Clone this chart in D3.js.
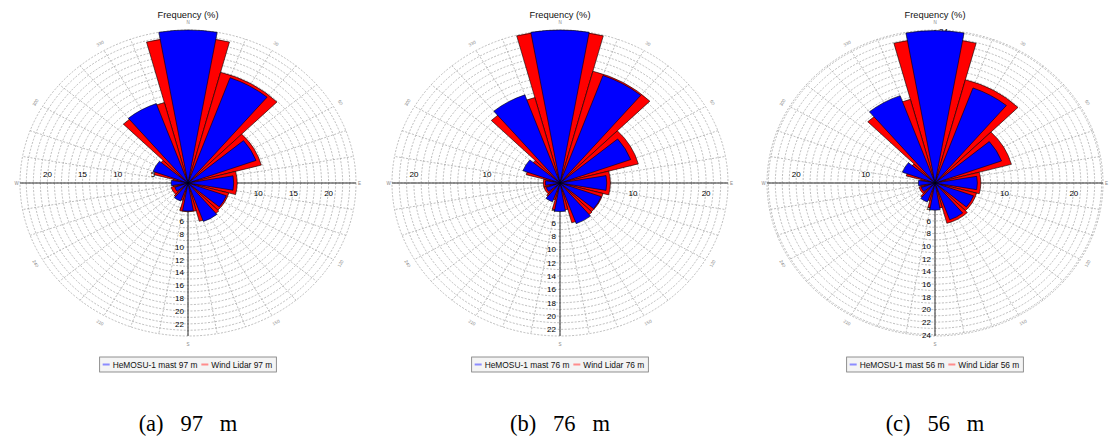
<!DOCTYPE html>
<html>
<head>
<meta charset="utf-8">
<script src="https://cdn.jsdelivr.net/npm/d3@7"></script>
<style>
  body { margin: 0; background: #fff; }
  svg { display: block; }
</style>
</head>
<body>
<svg id="chart" width="1109" height="440"></svg>
<script>
// Sector directions (degrees clockwise from north) and sector frequencies (%)
const directions = [0, 30, 60, 90, 120, 150, 180, 210, 240, 270, 300, 330];
const heights = ["97", "76", "56"];
const panelTags = ["(a)", "(b)", "(c)"];

const mast97  = [23.9, 17.5, 10.3, 6.5, 5.8, 6.4, 4.4, 3.0, 2.0, 2.4, 5.3, 13.2];
const lidar97 = [22.8, 17.9, 10.8, 7.0, 6.0, 6.2, 4.5, 2.8, 2.5, 2.2, 5.0, 13.0];
const mast76  = [23.0, 17.2, 10.3, 6.4, 6.0, 6.5, 4.3, 3.0, 2.0, 2.0, 5.4, 14.1];
const lidar76 = [22.9, 17.4, 11.1, 6.9, 6.1, 6.2, 4.1, 2.6, 2.3, 2.3, 4.8, 13.3];
const mast56  = [24.1, 16.0, 10.2, 6.1, 5.9, 6.2, 4.3, 3.2, 2.1, 2.4, 5.0, 14.7];
const lidar56 = [22.9, 16.9, 11.4, 6.6, 6.2, 6.6, 4.0, 2.9, 2.4, 2.1, 4.3, 13.7];

const radialMax = [23.9, 23.0, 24.2];   // outer ring of each rose (%)
const xTickStep = [5, 10, 10];          // E-W axis label step
const yTickStep = 2;                    // N-S axis label step
const dirLabels = ["N", "30", "60", "E", "120", "150", "S", "210", "240", "W", "300", "330"];

// ---- layout ----
const svg = d3.select("#chart");
const RX = 168, RY = 153;      // pixel half-axes of the outer ring (elliptic frame)
const CY = 183;
const centers = [188, 560, 935];
const LIDAR_W = 30, MAST_W = 20;   // angular width of the wedges (deg)

const panels = [
  { mast: mast97, lidar: lidar97 },
  { mast: mast76, lidar: lidar76 },
  { mast: mast56, lidar: lidar56 }
].map((p, i) => Object.assign(p, { h: heights[i], tag: panelTags[i], max: radialMax[i], xStep: xTickStep[i] }));

const rad = d => d * Math.PI / 180;

// elliptic wedge from the centre between angles a0..a1 with pixel radii rx, ry
function wedge(cx, cy, rx, ry, a0, a1) {
  const pt = a => [cx + rx * Math.sin(rad(a)), cy - ry * Math.cos(rad(a))];
  const [x0, y0] = pt(a0), [x1, y1] = pt(a1);
  return `M${cx},${cy}L${x0},${y0}A${rx},${ry} 0 0 1 ${x1},${y1}Z`;
}

panels.forEach((p, i) => drawRose(svg.append("g"), centers[i], p));

function drawRose(g, cx, p) {
  const sx = d3.scaleLinear().domain([0, p.max]).range([0, RX]);
  const sy = d3.scaleLinear().domain([0, p.max]).range([0, RY]);

  // dashed concentric rings, one per percent
  const rings = d3.range(1, p.max);
  rings.push(p.max);
  g.append("g").selectAll("ellipse").data(rings).join("ellipse")
    .attr("cx", cx).attr("cy", CY)
    .attr("rx", d => sx(d)).attr("ry", d => sy(d))
    .attr("fill", "none").attr("stroke", "#a0a0a0")
    .attr("stroke-width", 0.7).attr("stroke-dasharray", "2,1.5");

  // dashed spokes every 10 degrees
  g.append("g").selectAll("line").data(d3.range(0, 360, 10)).join("line")
    .attr("x1", cx).attr("y1", CY)
    .attr("x2", d => cx + RX * Math.sin(rad(d)))
    .attr("y2", d => CY - RY * Math.cos(rad(d)))
    .attr("stroke", "#a0a0a0").attr("stroke-width", 0.7).attr("stroke-dasharray", "2,1.5");

  // main axes
  g.append("line").attr("x1", cx - RX).attr("x2", cx + RX).attr("y1", CY).attr("y2", CY)
    .attr("stroke", "#333").attr("stroke-width", 1);
  g.append("line").attr("x1", cx).attr("x2", cx).attr("y1", CY - RY).attr("y2", CY + RY)
    .attr("stroke", "#333").attr("stroke-width", 1);

  const font = "Liberation Sans, Arial, sans-serif";
  // E-W labels: west side above the axis, east side below
  const xt = d3.range(p.xStep, p.max, p.xStep);
  const lab = g.append("g").attr("font-family", font).attr("font-size", 8).attr("fill", "#000");
  lab.selectAll(".xl").data(xt).join("text").attr("class", "xl")
    .attr("x", d => cx - sx(d)).attr("y", CY - 6).attr("text-anchor", "middle").text(d => d);
  lab.selectAll(".xr").data(xt).join("text").attr("class", "xr")
    .attr("x", d => cx + sx(d)).attr("y", CY + 13).attr("text-anchor", "middle").text(d => d);
  // N-S labels: south below the centre on the left, north on the right
  const yt = d3.range(yTickStep, p.max + 1e-6, yTickStep);
  lab.selectAll(".ys").data(yt).join("text").attr("class", "ys")
    .attr("x", cx - 4).attr("y", d => CY + sy(d)).attr("dy", "0.35em")
    .attr("text-anchor", "end").text(d => d);
  lab.selectAll(".yn").data(yt).join("text").attr("class", "yn")
    .attr("x", cx + 4).attr("y", d => CY - sy(d)).attr("dy", "0.35em")
    .attr("text-anchor", "start").text(d => d);

  // lidar wedges behind, mast wedges in front
  g.append("g").selectAll("path").data(directions).join("path")
    .attr("d", (d, k) => wedge(cx, CY, sx(p.lidar[k]), sy(p.lidar[k]), d - LIDAR_W / 2, d + LIDAR_W / 2))
    .attr("fill", "#ff0000").attr("stroke", "#000").attr("stroke-width", 0.6).attr("stroke-linejoin", "round");
  g.append("g").selectAll("path").data(directions).join("path")
    .attr("d", (d, k) => wedge(cx, CY, sx(p.mast[k]), sy(p.mast[k]), d - MAST_W / 2, d + MAST_W / 2))
    .attr("fill", "#0000ff").attr("stroke", "#000").attr("stroke-width", 0.6).attr("stroke-linejoin", "round");

  // small direction marks around the frame
  g.append("g").selectAll("text").data(directions).join("text")
    .attr("transform", d => {
      const off = d % 180 === 90 ? 3.5 : 8;
      const x = cx + (RX + off) * Math.sin(rad(d)), y = CY - (RY + 8) * Math.cos(rad(d));
      const rot = (d > 90 && d < 270) ? d - 180 : d;
      return `translate(${x},${y}) rotate(${d % 90 === 0 ? 0 : rot})`;
    })
    .attr("text-anchor", "middle").attr("dy", "0.35em")
    .attr("font-family", font).attr("font-size", 4.5).attr("fill", "#888")
    .text((d, k) => dirLabels[k]);

  // title
  g.append("text").attr("x", cx).attr("y", 18).attr("text-anchor", "middle")
    .attr("font-family", font).attr("font-size", 9.3).attr("fill", "#111")
    .text("Frequency (%)");

  // legend
  const lg = g.append("g");
  const box = lg.append("rect").attr("y", 357).attr("height", 15)
    .attr("fill", "#f4f4f4").attr("stroke", "#777").attr("stroke-width", 0.8);
  const items = [
    { name: `HeMOSU-1 mast ${p.h} m`, color: "#8c8cff" },
    { name: `Wind Lidar ${p.h} m`, color: "#ff8c8c" }
  ];
  let x = 3;
  items.forEach(it => {
    lg.append("line").attr("x1", x).attr("x2", x + 7).attr("y1", 364.5).attr("y2", 364.5)
      .attr("stroke", it.color).attr("stroke-width", 2);
    const t = lg.append("text").attr("x", x + 10).attr("y", 367.5)
      .attr("font-family", font).attr("font-size", 8.4).attr("fill", "#111").text(it.name);
    x += 10 + t.node().getComputedTextLength() + 4;
  });
  box.attr("x", 0).attr("width", x);
  lg.attr("transform", `translate(${cx - x / 2},0)`);

  // caption
  g.append("text").attr("x", cx).attr("y", 431).attr("text-anchor", "middle")
    .attr("font-family", "Liberation Serif, Times New Roman, serif").attr("font-size", 22.5)
    .style("white-space", "pre").attr("fill", "#000")
    .text(`${p.tag}   ${p.h}   m`);
}
</script>
</body>
</html>
